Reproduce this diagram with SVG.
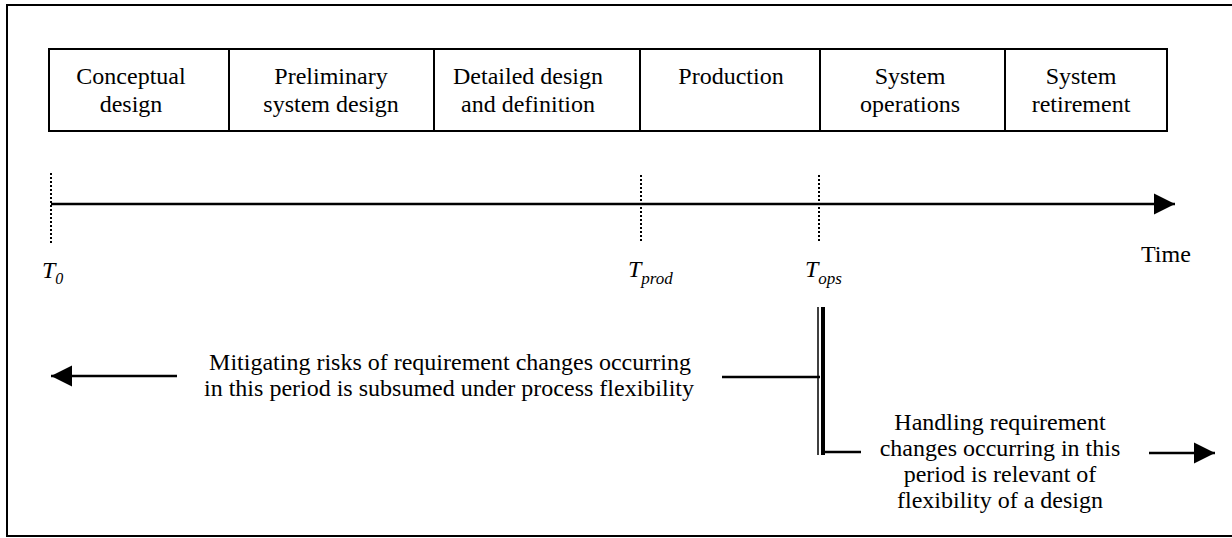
<svg xmlns="http://www.w3.org/2000/svg" width="1232" height="538" viewBox="0 0 1232 538">
<style>
text{font-family:"Liberation Serif","Times New Roman",serif;font-size:24px;fill:#000}
.c{text-anchor:middle}
.it{font-style:italic}
.box{fill:#fff;stroke:#000;stroke-width:2}
.ln{stroke:#000;stroke-width:2.5;fill:none}
.dot{stroke:#000;stroke-width:2;stroke-dasharray:2 2;fill:none}
</style>
<defs>
<marker id="ah" viewBox="0 0 10 10" refX="10" refY="5" markerWidth="8.5" markerHeight="8.5" markerUnits="strokeWidth" orient="auto">
<path d="M0,0 L10,5 L0,10 Z" fill="#000"/>
</marker>
</defs>
<rect x="7" y="5" width="1240" height="531" fill="#fff" stroke="#000" stroke-width="2"/>
<g id="phase-conceptual"><rect class="box" x="49" y="49" width="180" height="82"/><text class="c" x="131" y="84">Conceptual</text><text class="c" x="131" y="112">design</text></g>
<g id="phase-preliminary"><rect class="box" x="229" y="49" width="205" height="82"/><text class="c" x="331" y="84">Preliminary</text><text class="c" x="331" y="112">system design</text></g>
<g id="phase-detailed"><rect class="box" x="434" y="49" width="206" height="82"/><text class="c" x="528" y="84">Detailed design</text><text class="c" x="528" y="112">and definition</text></g>
<g id="phase-production"><rect class="box" x="640" y="49" width="180" height="82"/><text class="c" x="731" y="84">Production</text></g>
<g id="phase-operations"><rect class="box" x="820" y="49" width="185" height="82"/><text class="c" x="910" y="84">System</text><text class="c" x="910" y="112">operations</text></g>
<g id="phase-retirement"><rect class="box" x="1005" y="49" width="162" height="82"/><text class="c" x="1081" y="84">System</text><text class="c" x="1081" y="112">retirement</text></g>
<g id="connectors">
<line class="ln" x1="51" y1="204" x2="1175" y2="204" marker-end="url(#ah)"/>
<line class="dot" x1="51" y1="173" x2="51" y2="243"/>
<line class="dot" x1="641" y1="175" x2="641" y2="243"/>
<line class="dot" x1="819" y1="175" x2="819" y2="243"/>
<line x1="818" y1="307" x2="818" y2="455" stroke="#000" stroke-width="1.5"/>
<line x1="823" y1="307" x2="823" y2="455" stroke="#000" stroke-width="4"/>
<line class="ln" x1="722" y1="377" x2="820" y2="377"/>
<line class="ln" x1="823" y1="452" x2="861" y2="452"/>
<line class="ln" x1="177" y1="376" x2="51" y2="376" marker-end="url(#ah)"/>
<line class="ln" x1="1149" y1="453" x2="1215" y2="453" marker-end="url(#ah)"/>
</g>
<g id="labels">
<text x="1141" y="262">Time</text>
<text class="it" x="42" y="278">T<tspan font-size="16" dy="6">0</tspan></text>
<text class="it" x="628" y="277">T<tspan font-size="17" dy="7">prod</tspan></text>
<text class="it" x="805" y="277">T<tspan font-size="17" dy="7">ops</tspan></text>
<text class="c" x="450" y="370">Mitigating risks of requirement changes occurring</text>
<text class="c" x="449" y="396">in this period is subsumed under process flexibility</text>
<text class="c" x="1000" y="430">Handling requirement</text>
<text class="c" x="1000" y="456">changes occurring in this</text>
<text class="c" x="1000" y="482">period is relevant of</text>
<text class="c" x="1000" y="508">flexibility of a design</text>
</g>
</svg>
